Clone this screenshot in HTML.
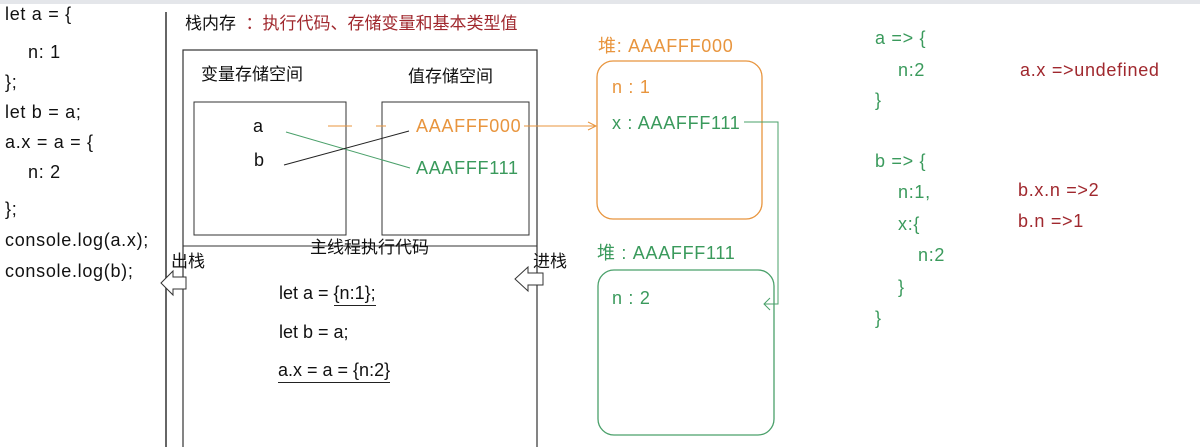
<!DOCTYPE html>
<html><head><meta charset="utf-8"><style>
body{margin:0;width:1200px;height:447px;background:#fff;overflow:hidden;position:relative;font-family:"Liberation Sans","Noto Sans CJK SC",sans-serif;}
.t{position:absolute;white-space:nowrap;font-size:18px;letter-spacing:0.7px;color:#111;line-height:22px;}
.c{font-size:17px;letter-spacing:0}
.n{letter-spacing:0}
.u{border-bottom:1px solid #222;padding-bottom:2px}
.g{color:#3a9a5c}.o{color:#e8953e}.r{color:#a0282e}
</style></head><body>
<div style="position:absolute;left:0;top:0;width:1200px;height:4px;background:#e4e6ea"></div>
<svg width="1200" height="447" style="position:absolute;left:0;top:0">
<line x1="166" y1="12" x2="166" y2="447" stroke="#333" stroke-width="1.5"/>
<rect x="183" y="50" width="354" height="400" fill="none" stroke="#333" stroke-width="1.2"/>
<rect x="194" y="102" width="152" height="133" fill="none" stroke="#333"/>
<rect x="382" y="102" width="147" height="133" fill="none" stroke="#333"/>
<line x1="183" y1="246" x2="537" y2="246" stroke="#333"/>
<line x1="286" y1="132" x2="410" y2="168" stroke="#4aa06a"/>
<line x1="284" y1="165" x2="409" y2="131" stroke="#222"/>
<line x1="328" y1="126" x2="352" y2="126" stroke="#e8953e"/>
<line x1="376" y1="126" x2="386" y2="126" stroke="#e8953e"/>
<line x1="524" y1="126" x2="596" y2="126" stroke="#e8953e"/>
<polyline points="588,122 596,126 588,130" fill="none" stroke="#e8953e"/>
<rect x="597" y="61" width="165" height="158" rx="16" fill="none" stroke="#e8953e" stroke-width="1.3"/>
<rect x="598" y="270" width="176" height="165" rx="16" fill="none" stroke="#4aa06a" stroke-width="1.3"/>
<polyline points="744,122 778,122 778,304 764,304" fill="none" stroke="#4aa06a"/>
<polyline points="770,298 764,304 770,310" fill="none" stroke="#4aa06a"/>
<polygon points="161,283 173,271 173,277 186,277 186,289 173,289 173,295" fill="#fff" stroke="#333"/>
<polygon points="515,279 528,267 528,273 543,273 543,285 528,285 528,291" fill="#fff" stroke="#333"/>
</svg>
<div class="t" style="left:5px;top:3px">let a = {</div>
<div class="t" style="left:28px;top:41px">n: 1</div>
<div class="t" style="left:5px;top:71px">};</div>
<div class="t" style="left:5px;top:101px">let b = a;</div>
<div class="t" style="left:5px;top:131px">a.x = a = {</div>
<div class="t" style="left:28px;top:161px">n: 2</div>
<div class="t" style="left:5px;top:198px">};</div>
<div class="t" style="left:5px;top:229px">console.log(a.x);</div>
<div class="t" style="left:5px;top:260px">console.log(b);</div>
<div class="t c" style="left:185px;top:13px">栈内存 <span class="r">&nbsp;：执行代码、存储变量和基本类型值</span></div>
<div class="t c" style="left:201px;top:64px">变量存储空间</div>
<div class="t c" style="left:408px;top:66px">值存储空间</div>
<div class="t" style="left:253px;top:115px">a</div>
<div class="t" style="left:254px;top:149px">b</div>
<div class="t o" style="left:416px;top:115px">AAAFFF000</div>
<div class="t g" style="left:416px;top:157px">AAAFFF111</div>
<div class="t c" style="left:310px;top:237px">主线程执行代码</div>
<div class="t c" style="left:171px;top:251px">出栈</div>
<div class="t c" style="left:533px;top:251px">进栈</div>
<div class="t n" style="left:279px;top:282px">let a = <span class="u">{n:1};</span></div>
<div class="t n" style="left:279px;top:321px">let b = a;</div>
<div class="t n" style="left:278px;top:359px"><span class="u">a.x = a = {n:2}</span></div>
<div class="t o" style="left:598px;top:35px">堆: AAAFFF000</div>
<div class="t o" style="left:612px;top:76px">n : 1</div>
<div class="t g" style="left:612px;top:112px">x : AAAFFF111</div>
<div class="t g" style="left:597px;top:242px">堆 : AAAFFF111</div>
<div class="t g" style="left:612px;top:287px">n : 2</div>
<div class="t g" style="left:875px;top:27px">a =&gt; {</div>
<div class="t g" style="left:898px;top:59px">n:2</div>
<div class="t g" style="left:875px;top:89px">}</div>
<div class="t g" style="left:875px;top:150px">b =&gt; {</div>
<div class="t g" style="left:898px;top:181px">n:1,</div>
<div class="t g" style="left:898px;top:213px">x:{</div>
<div class="t g" style="left:918px;top:244px">n:2</div>
<div class="t g" style="left:898px;top:276px">}</div>
<div class="t g" style="left:875px;top:307px">}</div>
<div class="t r" style="left:1020px;top:59px">a.x =&gt;undefined</div>
<div class="t r" style="left:1018px;top:179px">b.x.n =&gt;2</div>
<div class="t r" style="left:1018px;top:210px">b.n =&gt;1</div>
</body></html>
